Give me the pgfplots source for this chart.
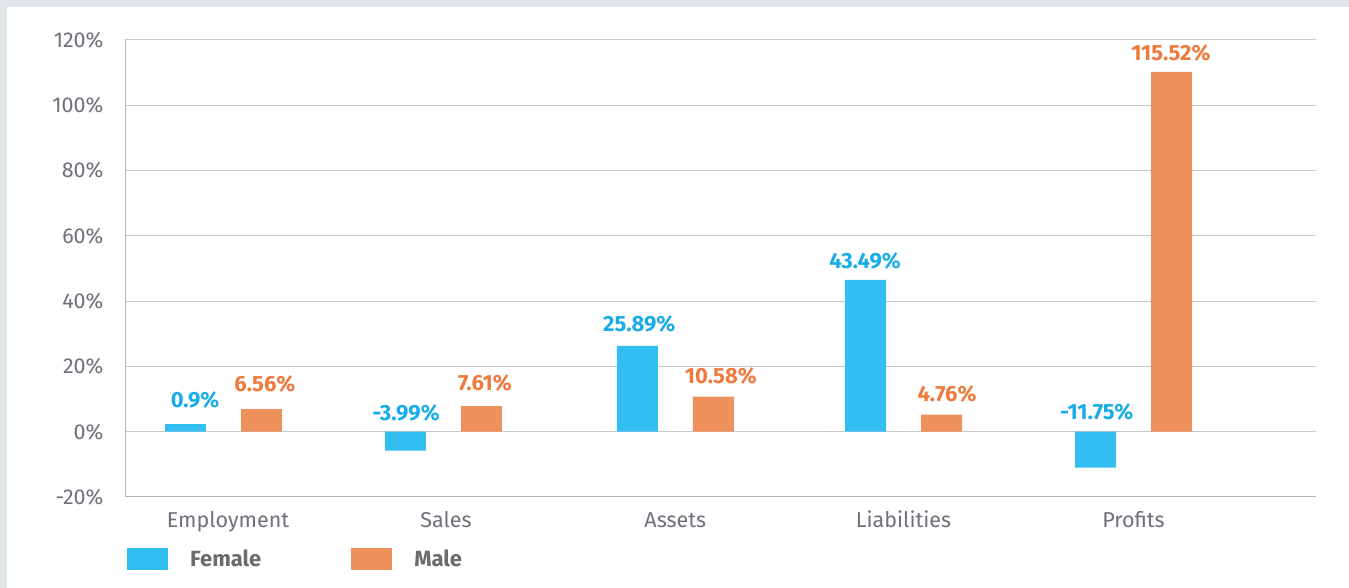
\documentclass[border=0pt]{standalone}
\usepackage{pgfplots}
\pgfplotsset{compat=1.18}
\usepackage{fontspec}
\setmainfont{Fira Sans}
\definecolor{bgray}{HTML}{E1E6E9}
\definecolor{fblue}{HTML}{33BEF2}
\definecolor{forange}{HTML}{EF915A}
\definecolor{lblue}{HTML}{18ADEA}
\definecolor{lorange}{HTML}{EE7A3C}
\definecolor{tgray}{HTML}{70707C}
\definecolor{lgray}{HTML}{6B6B6B}
\definecolor{gridc}{HTML}{C8C8C8}
\definecolor{axc}{HTML}{B4B4B4}
\begin{document}
\begin{tikzpicture}
\path[use as bounding box] (0,0) rectangle (1349pt,588pt);
\fill[bgray] (0,0) rectangle (1349pt,588pt);
\fill[white] (7pt,0) rectangle (1349pt,581pt);
\begin{axis}[
  at={(125pt,91pt)}, anchor=south west,
  scale only axis, width=1191pt, height=457pt,
  xmin=-0.433, xmax=4.802, ymin=-20, ymax=120,
  ytick={-20,0,20,40,60,80,100,120},
  xtick={0.02,0.978,1.986,2.989,4.0},
  xticklabels={Employment,Sales,Assets,Liabilities,Profits},
  yticklabel={\pgfmathparse{int(\tick)}\pgfmathresult\%},
  axis x line*=bottom, axis y line*=left,
  axis line style={draw=axc, line width=1pt},
  ymajorgrids, grid style={draw=gridc, line width=1pt},
  major tick length=0pt,
  tick style={draw=none},
  yticklabel style={font=\fontsize{21.5}{24}\selectfont, text=tgray, anchor=east, xshift=-18pt},
  xticklabel style={font=\fontsize{21.5}{24}\selectfont, text=tgray, anchor=base, yshift=-31pt},
  legend style={at={(0,0)}, anchor=north west, xshift=2pt, yshift=-51pt, draw=none, fill=none,
    font=\fontsize{22}{24}\selectfont\bfseries, text=lgray, inner sep=0pt,
    /tikz/every odd column/.append style={column sep=20pt},
    /tikz/every even column/.append style={column sep=88pt}},
  legend columns=2,
  legend cell align=left,
  clip=false,
]
\addplot[ybar, bar width=0.18, bar shift=-0.167, fill=fblue, draw=none,
  legend image code/.code={\fill[fblue] (0pt,-11pt) rectangle (41pt,11pt);}]
  coordinates {(0,2.36) (0.967,-5.82) (1.986,26.26) (2.989,46.48) (4,-11.03)};
\addlegendentry{Female}
\addplot[ybar, bar width=0.18, bar shift=0.167, fill=forange, draw=none,
  legend image code/.code={\fill[forange] (0pt,-11pt) rectangle (41pt,11pt);}]
  coordinates {(0,6.95) (0.967,7.87) (1.986,10.72) (2.989,5.21) (4,110.2)};
\addlegendentry{Male}
\addplot[draw=none, mark=none, forget plot, nodes near coords={\pgfplotspointmeta\%},
  point meta=explicit symbolic,
  nodes near coords style={anchor=center, font=\fontsize{22}{24}\selectfont\bfseries, text=lblue}]
  table[meta=l] {
x y l
-0.125 9.71 0.9
0.802 5.73 -3.99
1.827 33.1 25.89
2.820 52.4 43.49
3.838 6.04 -11.75
};
\addplot[draw=none, mark=none, forget plot, nodes near coords={\pgfplotspointmeta\%},
  point meta=explicit symbolic,
  nodes near coords style={anchor=center, font=\fontsize{22}{24}\selectfont\bfseries, text=lorange}]
  table[meta=l] {
x y l
0.182 14.6 6.56
1.149 14.9 7.61
2.186 17.07 10.58
3.180 11.55 4.76
4.164 116.1 115.52
};
\end{axis}
\end{tikzpicture}
\end{document}
